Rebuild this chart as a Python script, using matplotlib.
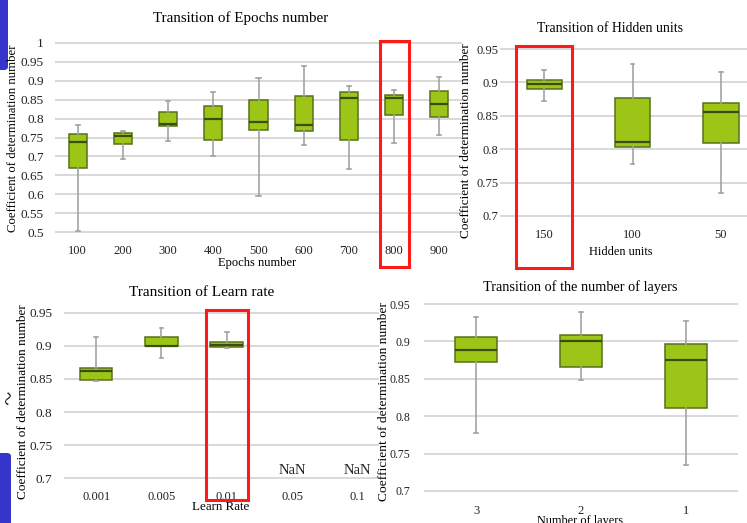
import numpy as np
import matplotlib
matplotlib.use("Agg")
import matplotlib.pyplot as plt
from matplotlib.patches import Rectangle, FancyBboxPatch

plt.rcParams['font.family'] = ['Liberation Serif', 'DejaVu Serif']

# ---- data (whisker low, Q1, median, Q3, whisker high)
epochs_labels = ["100", "200", "300", "400", "500", "600", "700", "800", "900"]
epochs_lo  = [0.504, 0.694, 0.740, 0.701, 0.596, 0.729, 0.668, 0.736, 0.757]
epochs_q1  = [0.670, 0.733, 0.781, 0.744, 0.770, 0.766, 0.744, 0.810, 0.803]
epochs_med = [0.737, 0.754, 0.786, 0.799, 0.790, 0.782, 0.855, 0.853, 0.837]
epochs_q3  = [0.760, 0.761, 0.817, 0.834, 0.849, 0.859, 0.870, 0.863, 0.873]
epochs_hi  = [0.784, 0.767, 0.846, 0.871, 0.908, 0.939, 0.885, 0.874, 0.910]

hidden_labels = ["150", "100", "50"]
hidden_lo  = [0.872, 0.778, 0.734]
hidden_q1  = [0.890, 0.804, 0.809]
hidden_med = [0.898, 0.811, 0.856]
hidden_q3  = [0.904, 0.877, 0.869]
hidden_hi  = [0.919, 0.928, 0.915]

lr_labels = ["0.001", "0.005", "0.01", "0.05", "0.1"]
lr_lo  = [0.847, 0.882, 0.897, np.nan, np.nan]
lr_q1  = [0.849, 0.900, 0.899, np.nan, np.nan]
lr_med = [0.862, 0.900, 0.901, np.nan, np.nan]
lr_q3  = [0.867, 0.913, 0.906, np.nan, np.nan]
lr_hi  = [0.914, 0.927, 0.921, np.nan, np.nan]

layers_labels = ["3", "2", "1"]
layers_lo  = [0.777, 0.849, 0.735]
layers_q1  = [0.872, 0.866, 0.811]
layers_med = [0.889, 0.900, 0.875]
layers_q3  = [0.906, 0.909, 0.897]
layers_hi  = [0.933, 0.939, 0.928]

W, H = 747, 523
fig = plt.figure(figsize=(W / 100, H / 100), dpi=100)

FILL = "#9dc518"
EDGE = "#56711a"
MED = "#3a4c0e"
WHISK = "#a3a3a3"
GRID = "#d6d6d6"


def px_axes(left, top, right, bottom):
    return fig.add_axes([left / W, 1 - bottom / H, (right - left) / W, (bottom - top) / H])


def px_text(x, y, s, **kw):
    fig.text(x / W, 1 - y / H, s, ha="center", va="center", **kw)


def panel(ax, labels, lo, q1, med, q3, hi, ylim, yticks, ytl, width, pad_y, cap,
          yfs, xfs, highlight=None, hl_bottom=None):
    stats = []
    pos = []
    for i in range(len(labels)):
        if np.isnan(med[i]):
            continue
        stats.append(dict(whislo=lo[i], q1=q1[i], med=med[i], q3=q3[i], whishi=hi[i], fliers=[]))
        pos.append(i)
    ax.bxp(stats, positions=pos, widths=width, patch_artist=True, showfliers=False,
           capwidths=cap,
           boxprops=dict(facecolor=FILL, edgecolor=EDGE, linewidth=1.1),
           medianprops=dict(color=MED, linewidth=1.6),
           whiskerprops=dict(color=WHISK, linewidth=1.2),
           capprops=dict(color=WHISK, linewidth=1.2),
           manage_ticks=False, zorder=3)
    ax.set_xlim(-0.5, len(labels) - 0.5)
    ax.set_ylim(ylim[0] - 0.0015, ylim[1] + 0.0015)
    ax.set_yticks(yticks)
    ax.set_yticklabels(ytl, fontsize=yfs)
    ax.set_xticks(range(len(labels)))
    ax.set_xticklabels(labels, fontsize=xfs)
    ax.tick_params(axis="both", length=0, colors="#222222")
    ax.tick_params(axis="y", pad=pad_y)
    ax.tick_params(axis="x", pad=9)
    ax.yaxis.grid(True, color=GRID, linewidth=1.3, zorder=0)
    ax.set_axisbelow(True)
    for s in ax.spines.values():
        s.set_visible(False)
    ax.patch.set_alpha(0)
    if highlight is not None:
        ax.add_patch(Rectangle((highlight - 0.32, hl_bottom), 0.64, ylim[1] + 0.004 - hl_bottom,
                               fill=False, edgecolor="#ff1a1a", linewidth=2.2,
                               clip_on=False, zorder=5))


ticks_small = [0.7, 0.75, 0.8, 0.85, 0.9, 0.95]
ticks_small_txt = ["0.7", "0.75", "0.8", "0.85", "0.9", "0.95"]

# top-left: epochs
ax1 = px_axes(55, 42, 462, 233)
t1 = [0.5, 0.55, 0.6, 0.65, 0.7, 0.75, 0.8, 0.85, 0.9, 0.95, 1.0]
panel(ax1, epochs_labels, epochs_lo, epochs_q1, epochs_med, epochs_q3, epochs_hi,
      (0.5, 1.0), t1, ["0.5", "0.55", "0.6", "0.65", "0.7", "0.75", "0.8", "0.85", "0.9", "0.95", "1"],
      0.4, 8, 0.09, 9.5, 9, highlight=7, hl_bottom=0.408)

# top-right: hidden units
ax2 = px_axes(500, 48, 765, 217)
panel(ax2, hidden_labels, hidden_lo, hidden_q1, hidden_med, hidden_q3, hidden_hi,
      (0.7, 0.95), ticks_small, ticks_small_txt,
      0.4, 1, 0.045, 9, 9, highlight=0, hl_bottom=0.6215)

# bottom-left: learn rate
ax3 = px_axes(63.5, 312, 379, 479)
panel(ax3, lr_labels, lr_lo, lr_q1, lr_med, lr_q3, lr_hi,
      (0.7, 0.95), ticks_small, ticks_small_txt,
      0.5, 8, 0.06, 9.5, 9, highlight=2, hl_bottom=0.666)
ax3.set_xlim(-0.5, 4.33)
for i in range(len(lr_labels)):
    if np.isnan(lr_med[i]):
        ax3.text(i, 0.7015, "NaN", ha="center", va="bottom", fontsize=10.5, color="#222222")

# bottom-right: layers
ax4 = px_axes(424, 303, 738, 492)
panel(ax4, layers_labels, layers_lo, layers_q1, layers_med, layers_q3, layers_hi,
      (0.7, 0.95), ticks_small, ticks_small_txt,
      0.4, 10, 0.04, 8.5, 9)

# titles
px_text(241, 18, "Transition of Epochs number", fontsize=10.8)
px_text(610, 28, "Transition of Hidden units", fontsize=9.9)
px_text(202, 292, "Transition of Learn rate", fontsize=11)
px_text(580, 287, "Transition of the number of layers", fontsize=10.3)

# x labels
px_text(257, 263, "Epochs number", fontsize=9)
px_text(621, 252, "Hidden units", fontsize=8.8)
px_text(221, 507, "Learn Rate", fontsize=9.4)
px_text(580, 521, "Number of layers", fontsize=8.8)

# y labels
ylab = "Coefficient of determination number"
px_text(13, 138, ylab, fontsize=9.2, rotation=90)
px_text(466, 141, ylab, fontsize=9.5, rotation=90)
px_text(23, 402, ylab, fontsize=9.5, rotation=90)
px_text(384, 402, ylab, fontsize=9.7, rotation=90)

# slide leftovers
fig.patches.append(FancyBboxPatch((-6 / W, 1 - 70 / H), 14 / W, 76 / H,
                                  boxstyle="round,pad=0,rounding_size=0.006",
                                  transform=fig.transFigure, facecolor="#3535cc",
                                  edgecolor="none"))
fig.patches.append(FancyBboxPatch((-6 / W, -6 / H), 17 / W, (523 - 453 + 6) / H,
                                  boxstyle="round,pad=0,rounding_size=0.006",
                                  transform=fig.transFigure, facecolor="#3535cc",
                                  edgecolor="none"))
px_text(10, 398, "~", fontsize=18, rotation=75)

fig.savefig("out.png", dpi=100)
